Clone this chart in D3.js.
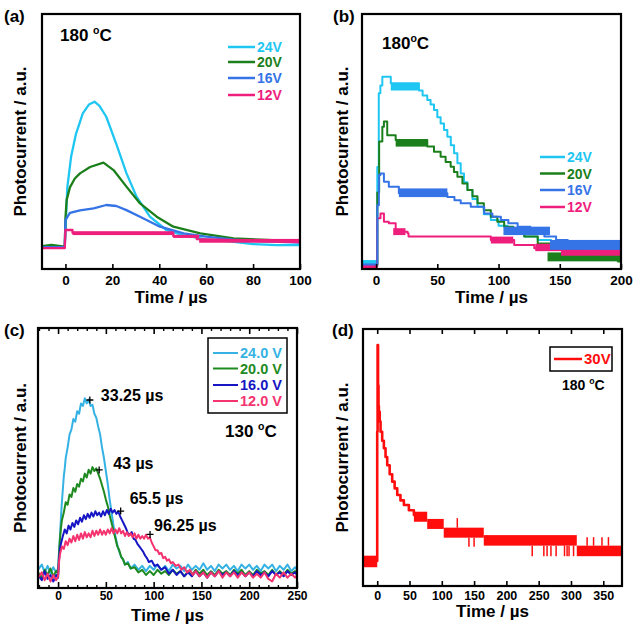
<!DOCTYPE html>
<html>
<head>
<meta charset="utf-8">
<script src="https://cdn.jsdelivr.net/npm/d3@7"></script>
<style>
body{margin:0;background:#fff}
text{font-family:"Liberation Sans",Arial,sans-serif;font-weight:bold}
</style>
</head>
<body>
<script>
// ---- panel (a): 180 C, values in a.u. (0..100 over the frame height)
let aTicks=[0,20,40,60,80,100]
let aVolt=["24V","20V","16V","12V"]
let a24=[[-10,8.8],[-5,8.5],[-0.3,8.6],[0,15],[0.8,32],[2.4,44],[4.5,53],[7.4,61],[10,64.5],[12.4,65.6],[14.5,64],[17.4,59.7],[21.7,49],[26,37.6],[30.3,28.4],[36,20.5],[43,15.3],[50,13.3],[60,11.6],[70,10.8],[80,9.8],[90,9.4],[100,9.4]]
let a20=[[-10,9],[-6,9.5],[-0.3,8.8],[0,20],[0.5,27],[1.9,32],[4,35.5],[6.2,37.5],[10.5,40],[16.2,41.7],[20.5,38.8],[26,32.3],[31.8,25.7],[38.9,20.5],[46,16.6],[57.5,14],[71.7,12],[86,11.4],[100,10.7]]
let a16=[[-10,8.6],[-0.3,8.6],[0,19.2],[1.9,22],[6.2,23],[12,23.8],[17.4,25.1],[21.7,24.7],[26,23.1],[31.8,20.5],[40.3,16.6],[50.4,14],[60,12.7],[71.7,11.5],[85,10.8],[100,10.4]]
let a12=[[-10,8.2],[-0.3,8.2],[0,15.3],[3,15.3],[3,14.2],[46,14.2],[46,12.8],[56,12.8],[56,11.7],[75,11.2],[100,10.5]]
let a12Bands=[[3,46,13.3,14.8],[46,57,12.2,13.4],[57,100,10.3,11.8]]

// ---- panel (b): 180 C
let bTicks=[0,50,100,150,200]
let b24=[[-11.5,2.2],[0,2.2],[1,40],[2.2,68.9],[3.5,72],[5.1,75.4],[12,72.8],[35,70],[38,68],[41.8,66.3],[44.5,64.5],[47.3,62.4],[50,59.5],[52.7,57.1],[55.5,54.5],[58.2,51.9],[61,48.5],[63.7,45.4],[66.4,41.5],[69.1,37.5],[71.8,34],[74.6,31],[78.7,27.5],[82.8,24.4],[88,21.5],[93.7,19.2],[100,17],[107.4,15.3],[114,14],[121,12.7],[132,11.4],[142.9,10.1],[156,9],[170,8.1],[184,7.4],[197.5,6.8],[200,6.8]]
let b20=[[-11.5,1.5],[0,1.5],[1,30],[2.5,50],[5.1,55.8],[6.4,57.8],[9.1,52.5],[16,50.6],[41.8,48],[47.3,46],[52.7,44],[56.8,42],[60.9,40.1],[63.6,38],[66.4,36.2],[70.5,33.5],[74.6,31],[78.7,28.5],[82.8,25.8],[88,23],[93.7,20.5],[99,18.5],[104.6,16.6],[112,14.5],[121,12.7],[132,10],[142.9,7.5],[156,6],[170,4.8],[184,3.8],[197.5,2.9],[200,2.9]]
let b16=[[-11.5,1.8],[0,1.8],[1,25],[2.3,36.9],[3.6,37.5],[6.4,34.2],[10.4,32.3],[18.6,29.7],[58.2,28.2],[64,27],[69.1,25.8],[77.3,24.4],[88.3,21.8],[95,20.5],[101.9,19.2],[108,17.9],[115.6,16.6],[126,14.6],[137.4,12.7],[147,11.4],[156.5,10.1],[170,9],[183.8,8.1],[200,6.8]]
let b12=[[-11.5,0.9],[0,0.9],[0.9,19.9],[3.6,21.8],[6.4,18.5],[10.4,17.9],[16,14.6],[25.7,14],[26.5,12.7],[93.7,11.4],[112.8,9.4],[129.2,8.1],[150,7.5],[170,6.2],[200,4.8]]
let b24Bands=[[12,35,70,72.8],[-11.5,0,1.5,3.5]]
let b20Bands=[[16,41.8,48,50.6],[140,200,3,6.5]]
let b16Bands=[[18.6,58.2,28.2,31.6],[104,142,13.3,16.6],[142,200,7.5,11.4]]
let b12Bands=[[14,24,13.3,16],[93.7,112,10,12.7],[130,151,7,9.9],[151,200,5.2,7.8],[-11.5,0,0,2]]

// ---- panel (c): 130 C, noisy traces
let cTicks=[0,50,100,150,200,250]
let cMinor=[-20,-10,10,20,30,40,60,70,80,90,110,120,130,140,160,170,180,190,210,220,230,240]
let cVolt=["24.0 V","20.0 V","16.0 V","12.0 V"]
let c24=[[-21,7],[-17,9],[-14,6],[-11,8.5],[-8,5.5],[-5,8],[-2,6],[0,7.5],[1,14],[2,20],[3,27],[4,33],[5,38],[6,43],[7,46],[8,50],[10,54],[12,59],[14,61],[16,65],[18,64],[20,68],[22,67],[24,71],[26,70],[28,73],[30,71],[32,72.5],[34,70],[36,70.5],[38,67],[40,65.5],[42,62],[44,59],[46,54],[48,50],[50,45],[52,40],[54,34],[56,29],[58,24],[60,20],[62,16.5],[64,14],[66,12],[68,11],[70,9],[73,10],[76,7.5],[80,9],[84,7],[88,8.5],[92,6.5],[96,8.5],[100,7],[104,9],[108,7],[112,8.5],[116,6.5],[120,9],[124,7.5],[128,8.5],[132,6.5],[136,9],[140,7],[144,8.5],[148,7],[152,9.5],[156,7],[160,8.5],[164,6.5],[168,9],[172,7.5],[176,9],[180,7],[184,8.5],[188,6.5],[192,9],[196,7.5],[200,9],[204,7],[208,8.5],[212,6.5],[216,9],[220,7.5],[224,9],[228,6.5],[232,8.5],[236,7],[240,9],[244,6.5],[248,8],[250,7]]
let c20=[[-21,6],[-17,4],[-14,7],[-11,5],[-8,7.5],[-5,4.5],[-2,6.5],[0,5.5],[1,13],[2,19],[3,23],[4,26],[6,29],[8,33],[10,32],[12,36],[14,35],[16,38.5],[18,37],[20,40],[22,39],[24,42],[26,41],[28,44],[30,42.5],[32,45.5],[34,44],[36,46.5],[38,45],[40,46],[42,44],[44,42],[46,39.5],[48,37],[50,34],[52,31.5],[54,28],[56,25],[58,22],[60,19],[62,16],[64,14.5],[66,12],[68,11],[70,9],[73,9.5],[76,7.5],[80,8],[84,6],[88,7],[92,5],[96,6.5],[100,5],[104,7],[108,5.5],[112,6.5],[116,5],[120,7],[124,5.5],[128,6.5],[132,4.5],[136,6.5],[140,5],[144,7],[148,5.5],[152,7],[156,5],[160,6.5],[164,5],[168,7],[172,5.5],[176,6.5],[180,5],[184,7],[188,5.5],[192,7],[196,5],[200,6.5],[204,5],[208,7],[212,5.5],[216,6.5],[220,5],[224,7],[228,5],[232,6.5],[236,5],[240,7],[244,5.5],[248,6.5],[250,5.5]]
let c16=[[-21,5],[-17,3],[-14,6.5],[-11,3.5],[-8,5],[-5,2.5],[-2,5],[0,4],[1,11],[2,15],[3,17],[5,20],[7,22.5],[9,21],[11,24],[13,22.5],[15,25],[17,23.5],[19,26],[21,24.5],[23,27],[25,25.5],[27,28],[29,26.5],[31,28.5],[33,27],[35,29],[37,27.5],[39,29.5],[41,28],[43,29],[45,27.5],[47,29.5],[49,28],[51,30],[53,28.5],[55,30.5],[57,29],[59,30],[61,28.5],[63,29.5],[65,27.5],[67,26],[69,24.5],[71,23],[73,21],[75,20.5],[77,21.5],[79,19],[81,18.5],[83,17],[85,16],[87,15],[89,14],[91,12.5],[93,11.5],[95,10],[98,10.5],[101,8.5],[104,9],[108,7],[112,8],[116,5.5],[120,7],[124,5],[128,6.5],[132,4.5],[136,6],[140,4.5],[144,6.5],[148,4.5],[152,6],[156,4],[160,6],[164,4.5],[168,6.5],[172,5],[176,6],[180,4.5],[184,6.5],[188,5],[192,6],[196,4.5],[200,6],[204,4.5],[208,6.5],[212,5],[216,6],[220,4.5],[224,6.5],[228,5],[232,6],[236,4.5],[240,6.5],[244,5],[248,6],[250,5]]
let c12=[[-21,4],[-17,6],[-14,3],[-11,5.5],[-8,2.5],[-5,5],[-2,3],[0,4.5],[1,10],[2,13],[4,16],[6,15],[8,18],[10,16.5],[12,19],[14,17.5],[16,20],[18,18],[20,20.5],[22,18.5],[24,21],[26,19],[28,21.5],[30,19.5],[32,21],[34,19.5],[36,22],[38,20],[40,22],[42,20.5],[44,22.5],[46,20.5],[48,22],[50,20.5],[52,22.5],[54,21],[56,23],[58,21],[60,22.5],[62,21],[64,23],[66,21],[68,22],[70,20],[72,21.5],[74,20],[76,21],[78,19.5],[80,21],[82,19],[84,20.5],[86,19],[88,20],[90,19],[92,20.5],[94,19],[96,19.5],[98,17.5],[100,16],[102,14.5],[104,14.5],[106,13],[108,13.5],[110,11.5],[112,12],[114,10.5],[116,11],[118,9.5],[120,10],[123,8.5],[126,9],[129,7],[132,8],[135,6],[138,7],[141,5],[144,6.5],[148,4.5],[152,6],[156,4],[160,6],[164,4.5],[168,6.5],[172,4],[176,6],[180,4.5],[184,6],[188,4],[192,6],[196,4.5],[200,6],[204,4],[208,5.5],[212,4],[216,6],[220,3.5],[224,2.5],[228,5.5],[232,4],[236,6],[240,4],[244,5.5],[248,4],[250,5]]
let cPeakT=[33.25,43,65.5,96.25]
let cPeakV=[72.3,45.4,29.6,20.6]
let cPeakLabel=["33.25 \u00b5s","43 \u00b5s","65.5 \u00b5s","96.25 \u00b5s"]

// ---- panel (d): 30 V, 180 C
let dTicks=[0,50,100,150,200,250,300,350]
let d30=[[-22,9.7],[-0.5,9.7],[0,60],[0.6,93.8],[1.3,78],[2,70],[2.6,67.8],[3.9,64],[5.2,60],[7.7,56.5],[10.3,53.6],[12.9,50.2],[15.5,47],[19.3,43.5],[23.2,40.6],[27,38],[31,35.4],[36,33.3],[41.3,31.5],[49,29.5],[56.8,27.6],[60,27.6]]
let d30Bands=[[-22,0,7.3,11.8],[56.8,77.4,25,28.9],[77.4,103,22.2,26.1],[103,165,18.8,22.7],[165,309,15.7,19.8],[309,379,11.6,15.7]]
let d30Spikes=[[124,22.7,26.4],[142,18.8,15.3],[150,18.8,15.3],[240,15.7,11.6],[258,15.7,11.6],[263,15.7,11.6],[269,15.7,11.6],[277,15.7,11.6],[290,15.7,11.6],[294,15.7,11.6],[297,15.7,11.6],[304,15.7,11.6],[325,15.7,19],[335,15.7,19],[348,15.7,19],[358,15.7,19]]

let colA={"24":"#1fc6f2","20":"#1b7f1b","16":"#3574e6","12":"#ee1f7c"}
let colC={"24":"#35b2e3","20":"#1f8a1f","16":"#1616c4","12":"#f4336f"}
let red="#ff0d0d"

let svg=d3.select("body").append("svg").attr("width",634).attr("height",625)

//draw one panel: frame, clipped traces, inward ticks and labels
function drawPanel(p){
    let x=d3.scaleLinear().domain(p.xDomain).range([p.x0,p.x1])
    let y=d3.scaleLinear().domain([0,100]).range([p.y1,p.y0])
    let g=svg.append("g")
    svg.append("clipPath").attr("id","clip"+p.name).append("rect").attr("x",p.x0).attr("y",p.y0).attr("width",p.x1-p.x0).attr("height",p.y1-p.y0)
    let plot=g.append("g").attr("clip-path","url(#clip"+p.name+")")
    let line=d3.line().x(d=>x(d[0])).y(d=>y(d[1])).curve(p.curve)

    p.series.forEach(s=>{
        (s.bands||[]).forEach(b=>{
            plot.append("rect").attr("x",x(b[0])).attr("width",x(b[1])-x(b[0])).attr("y",y(b[3])).attr("height",y(b[2])-y(b[3])).attr("fill",s.color)
        })
        ;(s.spikes||[]).forEach(k=>{
            plot.append("line").attr("x1",x(k[0])).attr("x2",x(k[0])).attr("y1",y(k[1])).attr("y2",y(k[2])).attr("stroke",s.color).attr("stroke-width",1.5)
        })
        plot.append("path").datum(s.data).attr("d",line).attr("fill","none").attr("stroke",s.color).attr("stroke-width",s.width).attr("stroke-linejoin","round")
    })

    let axisB=g.append("g").attr("transform","translate(0,"+p.y1+")")
        .call(d3.axisBottom(x).tickValues(p.ticks).tickSize(-p.tickLen).tickPadding(p.pad))
        .attr("font-size",p.tickFont).attr("font-family","Liberation Sans, Arial, sans-serif")
    axisB.select(".domain").remove()
    axisB.selectAll("line").attr("stroke-width",1.6)
    if(p.minor){
        let m=g.append("g").attr("transform","translate(0,"+p.y1+")").call(d3.axisBottom(x).tickValues(p.minor).tickSize(-3).tickFormat(""))
        m.select(".domain").remove(); m.selectAll("line").attr("stroke-width",1.4)
    }
    if(p.top){
        let t=g.append("g").attr("transform","translate(0,"+p.y0+")").call(d3.axisTop(x).tickValues(p.ticks).tickSize(-p.tickLen).tickFormat(""))
        t.select(".domain").remove(); t.selectAll("line").attr("stroke-width",1.6)
        if(p.minor){
            let tm=g.append("g").attr("transform","translate(0,"+p.y0+")").call(d3.axisTop(x).tickValues(p.minor).tickSize(-3).tickFormat(""))
            tm.select(".domain").remove(); tm.selectAll("line").attr("stroke-width",1.4)
        }
    }

    g.append("rect").attr("x",p.x0).attr("y",p.y0).attr("width",p.x1-p.x0).attr("height",p.y1-p.y0).attr("fill","none").attr("stroke","#000").attr("stroke-width",2.2)

    g.append("text").attr("x",(p.x0+p.x1)/2).attr("y",p.timeY).attr("text-anchor","middle").attr("font-size",17).text("Time / \u00b5s")
    g.append("text").attr("transform","translate("+p.ylabX+","+(p.y0+p.y1)/2+") rotate(-90)").attr("text-anchor","middle").attr("dominant-baseline","central").attr("font-size",17).text("Photocurrent / a.u.")
    g.append("text").attr("x",p.labX).attr("y",p.labY).attr("font-size",17).text(p.label)
    return {x:x,y:y,g:g}
}

//temperature label with a raised "o"
function tempLabel(g,x,y,size,num,gap){
    let t=g.append("text").attr("x",x).attr("y",y).attr("font-size",size)
    t.append("tspan").text(num+(gap?" ":""))
    t.append("tspan").attr("font-size",size*0.62).attr("dy",-size*0.4).text("o")
    t.append("tspan").attr("dy",size*0.4).text("C")
}

function legend(g,rows,x1,x2,lineYs,size,width){
    rows.forEach((r,i)=>{
        g.append("line").attr("x1",x1).attr("x2",x2).attr("y1",lineYs[i]).attr("y2",lineYs[i]).attr("stroke",r.color).attr("stroke-width",width)
        g.append("text").attr("x",x2+2).attr("y",lineYs[i]+size*0.36).attr("font-size",size).attr("fill",r.color).text(r.text)
    })
}

// (a)
let pa=drawPanel({name:"a",x0:42,x1:300,y0:14,y1:269,xDomain:[-10,100],ticks:aTicks,tickLen:5,pad:6,tickFont:13.5,
    curve:d3.curveLinear,timeY:303,ylabX:20,label:"(a)",labX:4,labY:22,
    series:[{data:a24,color:colA["24"],width:2.3},{data:a20,color:colA["20"],width:2.3},{data:a16,color:colA["16"],width:2.3},{data:a12,color:colA["12"],width:2.3,bands:a12Bands}]})
tempLabel(pa.g,60,41,17,"180",true)
legend(pa.g,aVolt.map(v=>({text:v,color:colA[v.slice(0,2)]})),228,255,[47,62,78,95],14,2.5)

// (b)
let pb=drawPanel({name:"b",x0:362,x1:621,y0:14,y1:269,xDomain:[-11.5,200],ticks:bTicks,tickLen:5,pad:6,tickFont:13.5,
    curve:d3.curveStepAfter,timeY:303,ylabX:342,label:"(b)",labX:333,labY:22,
    series:[{data:b24,color:colA["24"],width:2,bands:b24Bands},{data:b20,color:colA["20"],width:2,bands:b20Bands},{data:b12,color:colA["12"],width:2,bands:b12Bands},{data:b16,color:colA["16"],width:2,bands:b16Bands}]})
tempLabel(pb.g,382,49,17,"180",false)
legend(pb.g,aVolt.map(v=>({text:v,color:colA[v.slice(0,2)]})),540,565,[157,173.5,190,207],14,2.5)

// (c)
let pc=drawPanel({name:"c",x0:38,x1:297,y0:328,y1:588,xDomain:[-21,250],ticks:cTicks,minor:cMinor,top:true,tickLen:6,pad:3.5,tickFont:12,
    curve:d3.curveLinear,timeY:621,ylabX:20,label:"(c)",labX:4,labY:336,
    series:[{data:c24,color:colC["24"],width:2},{data:c20,color:colC["20"],width:2},{data:c16,color:colC["16"],width:2},{data:c12,color:colC["12"],width:2}]})
cPeakT.forEach((t,i)=>{
    let px=pc.x(t),py=pc.y(cPeakV[i])
    pc.g.append("path").attr("d","M"+(px-3.5)+","+py+"H"+(px+3.5)+"M"+px+","+(py-3.5)+"V"+(py+3.5)).attr("stroke","#000").attr("stroke-width",1.3)
})
let peakOff=[[11,1],[14,-1],[9,-7],[4,-3]]
cPeakLabel.forEach((s,i)=>{
    pc.g.append("text").attr("x",pc.x(cPeakT[i])+peakOff[i][0]).attr("y",pc.y(cPeakV[i])+peakOff[i][1]).attr("font-size",16).text(s)
})
pc.g.append("rect").attr("x",208).attr("y",338).attr("width",79).attr("height",75).attr("fill","#fff").attr("stroke","#000").attr("stroke-width",1.5)
legend(pc.g,cVolt.map(v=>({text:v,color:colC[v.slice(0,2)]})),213,238,[353,368.5,385,401],14.5,2)
tempLabel(pc.g,225,437,17,"130",true)

// (d)
let pd=drawPanel({name:"d",x0:363,x1:622,y0:329,y1:586,xDomain:[-22,379],ticks:dTicks,top:true,tickLen:5,pad:5,tickFont:12.5,
    curve:d3.curveStepAfter,timeY:617,ylabX:342,label:"(d)",labX:332,labY:336,
    series:[{data:d30,color:red,width:2.6,bands:d30Bands,spikes:d30Spikes}]})
pd.g.append("rect").attr("x",550).attr("y",347).attr("width",62).attr("height",24).attr("fill","#fff").attr("stroke","#000").attr("stroke-width",1.5)
legend(pd.g,[{text:"30V",color:red}],554,582,[359],15,2.5)
tempLabel(pd.g,562,390,14,"180",true)
</script>
</body>
</html>
